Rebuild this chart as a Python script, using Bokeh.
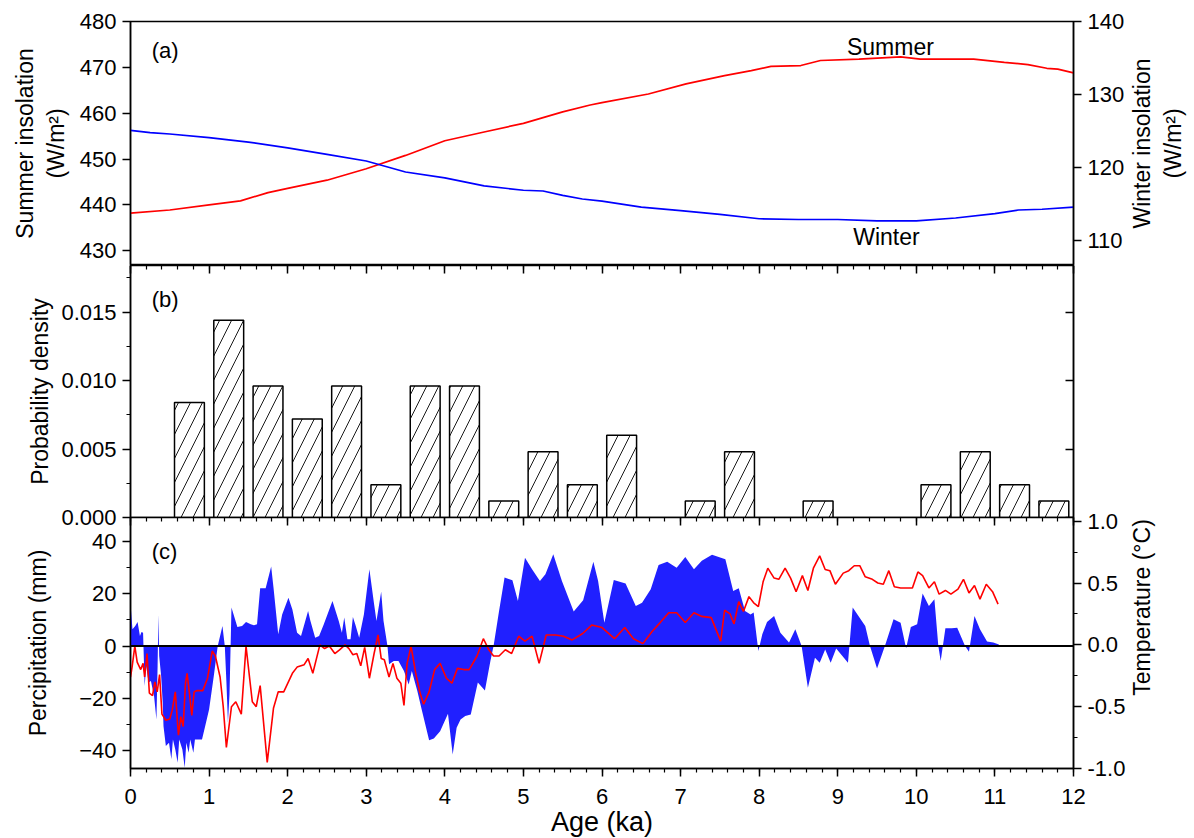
import math
from bokeh.plotting import figure
from bokeh.models import (Range1d, LinearAxis, SingleIntervalTicker, PrintfTickFormatter,
                          Span, Label, CustomJSTickFormatter)
from bokeh.layouts import column, row
from bokeh.embed import file_html
from bokeh.resources import INLINE

FONT = "Liberation Sans"

# ---------------- data ----------------
# (a) insolation
summer_age = [0, 0.5, 1.0, 1.4, 1.75, 2.0, 2.5, 3.0, 3.5, 4.0, 4.5, 5.0, 5.5, 5.85, 6.0, 6.59,
              7.07, 7.56, 7.9, 8.15, 8.53, 8.78, 9.27, 9.8, 10.05, 10.73, 11.12, 11.42, 11.66, 11.8, 12.0]
summer_insol = [438.2, 438.9, 440.0, 440.9, 442.7, 443.6, 445.4, 447.9, 450.8, 454.0, 455.9, 457.8,
                460.3, 461.8, 462.3, 464.2, 466.4, 468.2, 469.3, 470.2, 470.4, 471.5, 471.8, 472.3,
                471.8, 471.8, 471.1, 470.6, 469.8, 469.6, 468.8]
winter_age = [0, 0.25, 0.5, 1.0, 1.5, 2.0, 2.5, 3.0, 3.5, 4.0, 4.5, 5.0, 5.25, 5.5, 5.75, 6.0,
              6.5, 7.0, 7.5, 8.0, 8.5, 9.0, 9.5, 10.0, 10.5, 11.0, 11.3, 11.6, 12.0]
winter_insol = [125.1, 124.8, 124.6, 124.1, 123.5, 122.7, 121.8, 120.9, 119.4, 118.6, 117.5, 116.9,
                116.8, 116.2, 115.7, 115.4, 114.6, 114.1, 113.6, 113.0, 112.9, 112.9, 112.7, 112.7,
                113.1, 113.7, 114.2, 114.3, 114.6]

# (b) probability density
bin_center = [0.75, 1.25, 1.75, 2.25, 2.75, 3.25, 3.75, 4.25, 4.75, 5.25, 5.75, 6.25,
              7.25, 7.75, 8.75, 10.25, 10.75, 11.25, 11.75]
prob_density = [0.0084, 0.0144, 0.0096, 0.0072, 0.0096, 0.0024, 0.0096, 0.0096, 0.0012, 0.0048,
                0.0024, 0.0060, 0.0012, 0.0048, 0.0012, 0.0024, 0.0048, 0.0024, 0.0012]

# (c) precipitation anomaly
precip_age = [0.00, 0.025, 0.06, 0.09, 0.12, 0.14, 0.16, 0.18, 0.20, 0.23, 0.26, 0.30, 0.33, 0.345,
              0.355, 0.365, 0.39, 0.41, 0.42, 0.45, 0.49, 0.52, 0.54, 0.57, 0.60, 0.62, 0.66, 0.69,
              0.71, 0.74, 0.76, 0.80, 0.82, 0.91, 0.95, 1.00, 1.06, 1.11, 1.17, 1.20, 1.22, 1.24,
              1.26, 1.285, 1.36, 1.42, 1.47, 1.53, 1.57, 1.61, 1.65, 1.72, 1.79, 1.82, 1.88, 1.93,
              2.01, 2.06, 2.12, 2.17, 2.26, 2.29, 2.35, 2.40, 2.46, 2.57, 2.65, 2.69, 2.72, 2.76,
              2.80, 2.83, 2.86, 2.91, 2.97, 3.04, 3.10, 3.13, 3.19, 3.22, 3.27, 3.29, 3.35, 3.41,
              3.48, 3.54, 3.58, 3.65, 3.71, 3.80, 3.86, 3.94, 4.04, 4.10, 4.15, 4.20, 4.26, 4.33,
              4.42, 4.51, 4.58, 4.62, 4.69, 4.76, 4.86, 4.93, 5.02, 5.11, 5.21, 5.28, 5.38, 5.49,
              5.64, 5.76, 5.89, 5.95, 6.03, 6.15, 6.30, 6.43, 6.51, 6.62, 6.72, 6.83, 6.95, 7.06,
              7.17, 7.27, 7.40, 7.57, 7.67, 7.74, 7.82, 7.89, 7.93, 7.99, 8.04, 8.10, 8.19, 8.27,
              8.38, 8.46, 8.54, 8.62, 8.71, 8.77, 8.84, 8.91, 8.98, 9.13, 9.19, 9.35, 9.41, 9.50,
              9.60, 9.71, 9.80, 9.87, 9.93, 10.01, 10.08, 10.16, 10.23, 10.28, 10.31, 10.37, 10.45,
              10.52, 10.62, 10.67, 10.74, 10.81, 10.90, 10.98, 11.05]
precip = [16.2, 6.4, 7.7, 9.2, 3.8, 5.4, 5.1, -15.3, -7.7, -14.0, -13.4, -19.2, -28.1, -7.7,
          12.0, -3.8, -11.5, -21.7, -30.7, -38.3, -37.0, -43.4, -35.8, -39.6, -44.7, -35.8, -39.6,
          -46.6, -37.0, -40.9, -35.8, -40.9, -35.8, -35.8, -30.7, -24.3, -11.5, 0.0, 7.7, 0.0,
          -13.4, -29.4, -18.5, 14.7, 7.3, 7.7, 9.2, 8.3, 7.9, 8.3, 22.1, 22.1, 30.4, 22.3, 4.5,
          12.1, 18.5, 14.0, 5.1, 3.8, 13.4, 9.6, 3.2, 3.8, 8.3, 17.2, 9.6, 5.1, 10.9, 2.6, 2.6,
          11.1, 8.3, 3.2, 12.1, 29.4, 16.0, 9.6, 20.8, 9.6, 0.0, -7.0, -5.7, -5.7, -9.6, -14.7,
          -9.6, -17.2, -24.9, -36.1, -35.4, -32.6, -25.9, -41.5, -31.3, -28.1, -26.8, -26.2,
          -14.0, -17.0, -5.7, 0.0, 13.4, 26.2, 25.2, 17.2, 33.8, 29.4, 24.9, 27.5, 35.1, 24.9,
          13.2, 17.5, 32.3, 25.0, 8.9, 25.3, 23.9, 15.3, 16.6, 21.7, 31.0, 32.3, 30.0, 34.1, 29.4,
          32.6, 34.9, 33.2, 21.1, 22.1, 13.4, 12.1, 12.8, -1.9, 4.5, 9.2, 11.5, 5.1, 1.3, 6.4,
          0.0, -16.0, -4.5, -6.4, -1.3, -6.4, -1.0, -6.4, 14.7, 7.7, 0.0, -8.6, 0.0, 10.2, 8.9,
          -0.9, 7.3, 8.3, 20.1, 15.3, 17.9, 0.0, -5.7, 6.8, 6.8, 7.0, 0.0, -2.2, 11.5, 6.4, 1.7,
          1.3, 0.6]

# (c) temperature anomaly
temp_age = [0.00, 0.02, 0.055, 0.085, 0.13, 0.16, 0.18, 0.21, 0.24, 0.28, 0.31, 0.34, 0.37, 0.40,
            0.45, 0.50, 0.53, 0.57, 0.61, 0.64, 0.67, 0.70, 0.72, 0.75, 0.78, 0.81, 0.85, 0.92,
            0.98, 1.04, 1.08, 1.14, 1.18, 1.22, 1.285, 1.34, 1.41, 1.47, 1.55, 1.60, 1.65, 1.74,
            1.82, 1.88, 1.95, 2.06, 2.12, 2.21, 2.26, 2.32, 2.41, 2.47, 2.53, 2.60, 2.66, 2.73,
            2.78, 2.83, 2.88, 2.93, 2.98, 3.04, 3.10, 3.15, 3.19, 3.23, 3.29, 3.34, 3.39, 3.44,
            3.48, 3.52, 3.57, 3.63, 3.68, 3.73, 3.80, 3.87, 3.94, 4.02, 4.09, 4.16, 4.24, 4.31,
            4.41, 4.49, 4.56, 4.62, 4.69, 4.77, 4.85, 4.94, 5.02, 5.11, 5.20, 5.29, 5.41, 5.51,
            5.62, 5.75, 5.87, 6.00, 6.16, 6.29, 6.40, 6.52, 6.64, 6.74, 6.85, 6.95, 7.06, 7.17,
            7.27, 7.39, 7.51, 7.56, 7.63, 7.68, 7.74, 7.80, 7.87, 7.93, 7.99, 8.05, 8.11, 8.19,
            8.25, 8.33, 8.40, 8.47, 8.55, 8.62, 8.69, 8.77, 8.84, 8.90, 8.97, 9.07, 9.14, 9.21,
            9.28, 9.35, 9.44, 9.51, 9.58, 9.65, 9.72, 9.80, 9.87, 9.95, 10.02, 10.08, 10.16, 10.23,
            10.29, 10.37, 10.44, 10.53, 10.60, 10.67, 10.74, 10.81, 10.89, 10.97, 11.04]
temp = [-0.26, -0.18, -0.01, -0.14, -0.20, -0.15, -0.26, -0.07, -0.39, -0.41, -0.30, -0.38, -0.24,
        -0.56, -0.61, -0.60, -0.53, -0.38, -0.73, -0.58, -0.66, -0.31, -0.23, -0.39, -0.57, -0.38,
        -0.37, -0.37, -0.27, -0.05, -0.09, -0.26, -0.50, -0.83, -0.50, -0.46, -0.56, -0.01, -0.46,
        -0.50, -0.33, -0.95, -0.51, -0.38, -0.38, -0.23, -0.18, -0.16, -0.11, -0.23, 0.00, -0.03,
        -0.01, -0.07, -0.04, 0.00, -0.03, -0.08, -0.07, -0.17, -0.02, -0.27, -0.07, 0.08, -0.11,
        -0.12, -0.26, -0.15, -0.27, -0.31, -0.49, -0.15, -0.01, -0.23, -0.38, -0.48, -0.38, -0.20,
        -0.15, -0.27, -0.31, -0.19, -0.20, -0.20, -0.09, 0.05, -0.04, -0.09, -0.09, -0.04, -0.07,
        0.07, 0.03, 0.07, -0.15, 0.08, 0.08, 0.07, 0.04, 0.09, 0.16, 0.14, 0.05, 0.14, 0.05, 0.01,
        0.11, 0.18, 0.26, 0.26, 0.18, 0.26, 0.23, 0.22, 0.03, 0.28, 0.25, 0.17, 0.35, 0.27, 0.39,
        0.34, 0.31, 0.51, 0.62, 0.54, 0.53, 0.62, 0.54, 0.43, 0.56, 0.44, 0.62, 0.72, 0.61, 0.60,
        0.49, 0.58, 0.60, 0.64, 0.64, 0.55, 0.53, 0.50, 0.49, 0.60, 0.47, 0.46, 0.46, 0.46, 0.59,
        0.56, 0.46, 0.51, 0.41, 0.44, 0.41, 0.45, 0.53, 0.42, 0.48, 0.37, 0.49, 0.43, 0.33]

# ---------------- helpers ----------------
TICK_FS = "22px"
LABEL_FS = "23px"
FW = 943


def style_axis(ax, label_standoff=8):
    ax.axis_line_color = "black"
    ax.axis_line_width = 1.5
    ax.major_tick_line_color = "black"
    ax.major_tick_line_width = 1.5
    ax.minor_tick_line_color = "black"
    ax.minor_tick_line_width = 1.2
    ax.major_tick_out = 8
    ax.major_tick_in = 0
    ax.minor_tick_out = 4
    ax.minor_tick_in = 0
    ax.major_label_text_font = FONT
    ax.major_label_text_font_size = TICK_FS
    ax.major_label_text_color = "black"
    ax.major_label_standoff = 6
    ax.axis_label_text_font = FONT
    ax.axis_label_text_font_size = LABEL_FS
    ax.axis_label_text_font_style = "normal"
    ax.axis_label_text_color = "black"
    ax.axis_label_standoff = label_standoff


def hide_labels(ax):
    ax.formatter = CustomJSTickFormatter(code="return ''")
    ax.major_label_text_font_size = "0px"
    ax.major_label_standoff = 0


def inner_x_axis():
    ax = LinearAxis(ticker=SingleIntervalTicker(interval=1, num_minor_ticks=5))
    ax.axis_line_color = None
    ax.major_tick_line_color = "black"
    ax.major_tick_line_width = 1.5
    ax.minor_tick_line_color = "black"
    ax.minor_tick_line_width = 1.2
    ax.major_tick_in = 8
    ax.major_tick_out = 0
    ax.minor_tick_in = 4
    ax.minor_tick_out = 0
    hide_labels(ax)
    return ax


def label_fig(text, width, height, top, xfrac):
    f = figure(width=width, height=height, x_range=Range1d(0, 1), y_range=Range1d(0, 1),
               x_axis_location=None, y_axis_location=None, toolbar_location=None,
               output_backend="svg", min_border_left=0, min_border_right=0,
               min_border_top=top, min_border_bottom=0)
    f.grid.visible = False
    f.outline_line_color = None
    f.background_fill_alpha = 0
    f.border_fill_alpha = 0
    f.add_layout(Label(x=xfrac, y=0.5, text=text, angle=math.pi / 2, text_align="center",
                       text_baseline="middle", text_font=FONT, text_font_size=LABEL_FS,
                       text_color="black"))
    return f


def base_fig(frame_height, y_range, top, bottom, right, x_axis):
    p = figure(frame_width=FW, frame_height=frame_height, x_range=x_range, y_range=y_range,
               x_axis_location=x_axis, toolbar_location=None, output_backend="svg",
               min_border_left=130, min_border_right=right, min_border_top=top,
               min_border_bottom=bottom)
    p.grid.visible = False
    p.outline_line_color = "black"
    p.outline_line_width = 1.5
    p.background_fill_color = "white"
    p.border_fill_color = "white"
    return p


x_range = Range1d(0, 12)

# ---------------- panel (a) ----------------
FH1 = 244
p1 = base_fig(FH1, Range1d(426.8, 480), 21, 0, 55, None)
p1.extra_y_ranges = {"winter": Range1d(106.6, 140)}
ya = p1.yaxis[0]
ya.ticker = SingleIntervalTicker(interval=10)
style_axis(ya, 8)
ya.minor_tick_line_color = None
ya.axis_label = "Summer insolation\n(W/m\u00b2)"
ra = LinearAxis(y_range_name="winter", ticker=SingleIntervalTicker(interval=10))
style_axis(ra)
ra.minor_tick_line_color = None
p1.add_layout(ra, "right")

p1.line(summer_age, summer_insol, line_color="#ff0000", line_width=1.7)
p1.line(winter_age, winter_insol, line_color="#0000ff", line_width=1.7, y_range_name="winter")
p1.add_layout(Label(x=0.27, y=473.7, text="(a)", text_font=FONT, text_font_size="22px",
                    text_baseline="middle", text_color="black"))
p1.add_layout(Label(x=9.67, y=474.4, text="Summer", text_font=FONT, text_font_size="23px",
                    text_align="center", text_baseline="middle", text_color="black"))
p1.add_layout(Label(x=9.62, y=433.0, text="Winter", text_font=FONT, text_font_size="23px",
                    text_align="center", text_baseline="middle", text_color="black"))
l1 = label_fig("Winter insolation\n(W/m\u00b2)", 60, 21 + FH1, 21, 0.48)

# ---------------- panel (b) ----------------
FH2 = 252
GAP = 12
p2 = base_fig(FH2, Range1d(0, 0.0184), 0, GAP, 55, None)
yb = p2.yaxis[0]
yb.ticker = SingleIntervalTicker(interval=0.005, num_minor_ticks=2)
yb.formatter = PrintfTickFormatter(format="%.3f")
style_axis(yb, 5)
yb.axis_label = "Probability density"
rb = LinearAxis(ticker=SingleIntervalTicker(interval=0.005))
style_axis(rb)
rb.major_tick_out = 0
rb.major_tick_in = 8
rb.minor_tick_line_color = None
hide_labels(rb)
p2.add_layout(rb, "right")
p2.add_layout(inner_x_axis(), "above")

p2.vbar(x=bin_center, top=prob_density, bottom=0, width=0.38, fill_color="white",
        line_color="black", line_width=1.5, hatch_pattern="/", hatch_color="black",
        hatch_scale=24, hatch_weight=0.9)
p2.add_layout(Label(x=0.27, y=0.01595, text="(b)", text_font=FONT, text_font_size="22px",
                    text_baseline="middle", text_color="black"))

# ---------------- panel (c) ----------------
FH3 = 251
p3 = base_fig(FH3, Range1d(-46.9, 49.2), GAP, 66, 52, "below")
p3.border_fill_alpha = 0
p3.extra_y_ranges = {"temp": Range1d(-1.0, 1.03)}
yc = p3.yaxis[0]
yc.ticker = SingleIntervalTicker(interval=20, num_minor_ticks=2)
style_axis(yc, 25)
yc.axis_label = "Percipitation (mm)"
rc = LinearAxis(y_range_name="temp", ticker=SingleIntervalTicker(interval=0.5, num_minor_ticks=2),
                formatter=PrintfTickFormatter(format="%.1f"))
style_axis(rc)
p3.add_layout(rc, "right")
xc = p3.xaxis[0]
xc.ticker = SingleIntervalTicker(interval=1, num_minor_ticks=5)
style_axis(xc, 0)
xc.major_label_standoff = 12
xc.axis_label = "Age (ka)"
xc.axis_label_text_font_size = "27px"
p3.add_layout(inner_x_axis(), "above")

p3.varea(x=precip_age, y1=0, y2=precip, fill_color="#2020ff")
p3.add_layout(Span(location=0, dimension="width", line_color="black", line_width=2))
p3.line(temp_age, temp, line_color="#ff0000", line_width=1.6, y_range_name="temp")
p3.add_layout(Label(x=0.27, y=36.3, text="(c)", text_font=FONT, text_font_size="22px",
                    text_baseline="middle", text_color="black"))
l3 = label_fig("Temperature (\u00b0C)", 60, GAP + FH3, GAP, 0.22)

row_a = row(p1, l1, spacing=0)
row_c = row(p3, l3, spacing=0, margin=(-2 * GAP, 0, 0, 0))
layout = column(row_a, p2, row_c, spacing=0)
open("out.html", "w").write(file_html(layout, INLINE))
